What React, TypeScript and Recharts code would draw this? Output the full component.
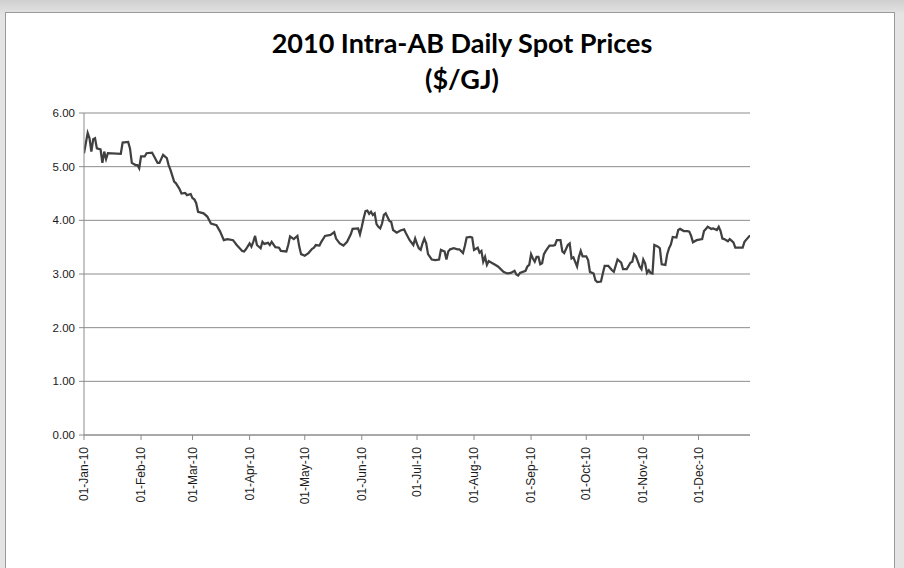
import { LineChart, Line, XAxis, YAxis, CartesianGrid } from "recharts";

// day of year (0 = 01-Jan-10) and price in $/GJ
const days = [
  0, 2, 3, 4, 5, 6, 7, 9, 10, 11, 12, 13, 20, 21, 24, 25, 26, 28, 29, 30,
  31, 33, 34, 37, 38, 40, 41, 43, 45, 46, 47, 49, 50, 52, 53, 55, 56, 58, 59, 60,
  61, 62, 65, 67, 69, 72, 74, 76, 78, 81, 83, 86, 87, 88, 90, 91, 92, 93, 94, 96,
  97, 98, 100, 101, 102, 104, 106, 107, 110, 111, 112, 114, 116, 117, 118, 120, 122, 124, 125, 126,
  128, 129, 131, 134, 136, 137, 139, 141, 143, 145, 146, 149, 150, 151, 152, 153, 154, 155, 156, 157,
  158, 159, 160, 161, 162, 163, 164, 166, 167, 168, 170, 172, 174, 175, 177, 179, 180, 181, 182, 183,
  184, 185, 186, 187, 189, 191, 193, 194, 196, 197, 198, 199, 201, 203, 204, 206, 207, 208, 210, 211,
  212, 214, 215, 216, 217, 218, 219, 220, 222, 223, 225, 228, 230, 232, 234, 235, 236, 237, 240, 241,
  242, 243, 244, 245, 246, 247, 248, 249, 250, 251, 253, 255, 256, 257, 259, 260, 261, 263, 264, 265,
  266, 268, 269, 270, 271, 273, 274, 275, 277, 278, 279, 281, 282, 283, 285, 287, 288, 290, 292, 293,
  295, 297, 298, 299, 300, 302, 303, 304, 305, 306, 307, 308, 309, 310, 312, 313, 314, 316, 317, 318,
  319, 320, 322, 323, 324, 326, 328, 329, 330, 331, 333, 336, 337, 338, 339, 341, 342, 344, 345, 346,
  347, 348, 350, 351, 353, 354, 357, 358, 359, 362,
];

const prices = [
  5.25, 5.63, 5.53, 5.28, 5.51, 5.53, 5.34, 5.32, 5.07, 5.28, 5.14, 5.25, 5.24, 5.45, 5.46, 5.34, 5.07, 5.03, 5.03, 4.97,
  5.19, 5.19, 5.25, 5.26, 5.2, 5.07, 5.07, 5.22, 5.16, 5.03, 4.94, 4.72, 4.69, 4.58, 4.5, 4.51, 4.47, 4.49, 4.41, 4.39,
  4.32, 4.16, 4.13, 4.07, 3.94, 3.91, 3.79, 3.63, 3.65, 3.63, 3.54, 3.43, 3.42, 3.46, 3.57, 3.51, 3.6, 3.71, 3.54, 3.48,
  3.6, 3.56, 3.58, 3.54, 3.6, 3.5, 3.49, 3.43, 3.42, 3.54, 3.7, 3.65, 3.71, 3.51, 3.37, 3.34, 3.39, 3.47, 3.49, 3.54,
  3.53, 3.6, 3.71, 3.73, 3.78, 3.66, 3.57, 3.53, 3.6, 3.74, 3.84, 3.85, 3.74, 3.88, 4.04, 4.17, 4.18, 4.12, 4.16, 4.1,
  4.13, 3.93, 3.88, 3.85, 3.94, 4.1, 4.13, 3.99, 3.97, 3.82, 3.77, 3.81, 3.83, 3.76, 3.63, 3.54, 3.66, 3.56, 3.48, 3.45,
  3.57, 3.66, 3.57, 3.37, 3.27, 3.26, 3.27, 3.45, 3.42, 3.27, 3.42, 3.46, 3.48, 3.46, 3.46, 3.39, 3.52, 3.68, 3.69, 3.68,
  3.45, 3.49, 3.4, 3.43, 3.23, 3.32, 3.17, 3.24, 3.2, 3.18, 3.14, 3.04, 3.01, 3.02, 3.06, 2.99, 2.97, 3.02, 3.06, 3.14,
  3.17, 3.37, 3.29, 3.23, 3.32, 3.32, 3.18, 3.2, 3.37, 3.43, 3.53, 3.53, 3.54, 3.63, 3.63, 3.42, 3.39, 3.54, 3.57, 3.29,
  3.31, 3.14, 3.32, 3.43, 3.33, 3.33, 3.26, 3.04, 3.01, 2.88, 2.85, 2.86, 3.01, 3.15, 3.15, 3.07, 3.04, 3.27, 3.21, 3.09,
  3.09, 3.21, 3.23, 3.37, 3.33, 3.14, 3.09, 3.27, 3.2, 3.02, 3.07, 3.02, 3.01, 3.54, 3.51, 3.48, 3.18, 3.17, 3.37, 3.48,
  3.55, 3.69, 3.68, 3.82, 3.84, 3.8, 3.8, 3.79, 3.71, 3.59, 3.63, 3.65, 3.8, 3.84, 3.88, 3.84, 3.85, 3.82, 3.88, 3.8,
  3.66, 3.65, 3.61, 3.65, 3.59, 3.49, 3.49, 3.49, 3.6, 3.72,
];

const monthStarts = [0, 31, 59, 90, 120, 151, 181, 212, 243, 273, 304, 334];
const monthLabels = [
  "01-Jan-10", "01-Feb-10", "01-Mar-10", "01-Apr-10", "01-May-10", "01-Jun-10",
  "01-Jul-10", "01-Aug-10", "01-Sep-10", "01-Oct-10", "01-Nov-10", "01-Dec-10",
];
const yTicks = [0, 1, 2, 3, 4, 5, 6];

const data = days.map((d, i) => ({ day: d, price: prices[i] }));

const axisFont = '"Liberation Sans", Arial, sans-serif';

function MonthTick({ x, y, payload }: any) {
  const idx = monthStarts.indexOf(payload.value);
  return (
    <text
      x={x}
      y={y}
      transform={`rotate(-90, ${x}, ${y})`}
      textAnchor="end"
      dy="0.35em"
      fontFamily={axisFont}
      fontSize={12}
      fill="#1a1a1a"
    >
      {monthLabels[idx]}
    </text>
  );
}

export default function App() {
  return (
    <div
      style={{
        position: "fixed",
        left: 0,
        top: 0,
        width: 904,
        height: 568,
        overflow: "hidden",
        background: "linear-gradient(#cfcfcf, #e4e4e4 14px)",
      }}
    >
      <div
        style={{
          position: "absolute",
          left: 5,
          top: 12,
          width: 888,
          height: 570,
          background: "#fff",
          border: "1px solid #9a9a9a",
        }}
      />
      <div
        style={{
          position: "absolute",
          left: 262,
          width: 400,
          top: 25,
          textAlign: "center",
          fontFamily: "Lato, 'Open Sans', sans-serif",
          fontWeight: 700,
          fontSize: 27,
          lineHeight: "36px",
          color: "#000",
        }}
      >
        <div>2010 Intra-AB Daily Spot Prices</div>
        <div>($/GJ)</div>
      </div>
      <div style={{ position: "absolute", left: 0, top: 0 }}>
        <LineChart
          width={904}
          height={568}
          data={data}
          margin={{ top: 113, right: 154, bottom: 0, left: 0 }}
        >
          <CartesianGrid vertical={false} stroke="#8c8c8c" />
          <XAxis
            dataKey="day"
            type="number"
            domain={[0, 362]}
            ticks={monthStarts}
            interval={0}
            tick={<MonthTick />}
            tickSize={5}
            tickMargin={7}
            height={133}
            stroke="#8c8c8c"
            allowDataOverflow
          />
          <YAxis
            domain={[0, 6]}
            ticks={yTicks}
            interval={0}
            width={84}
            tickSize={5}
            tickMargin={4}
            tickFormatter={(v: number) => v.toFixed(2)}
            tick={{ fontFamily: axisFont, fontSize: 11.5, fill: "#1a1a1a" }}
            stroke="#8c8c8c"
          />
          <Line
            type="linear"
            dataKey="price"
            stroke="#404040"
            strokeWidth={2.25}
            dot={false}
            activeDot={false}
            isAnimationActive={false}
          />
        </LineChart>
      </div>
    </div>
  );
}
